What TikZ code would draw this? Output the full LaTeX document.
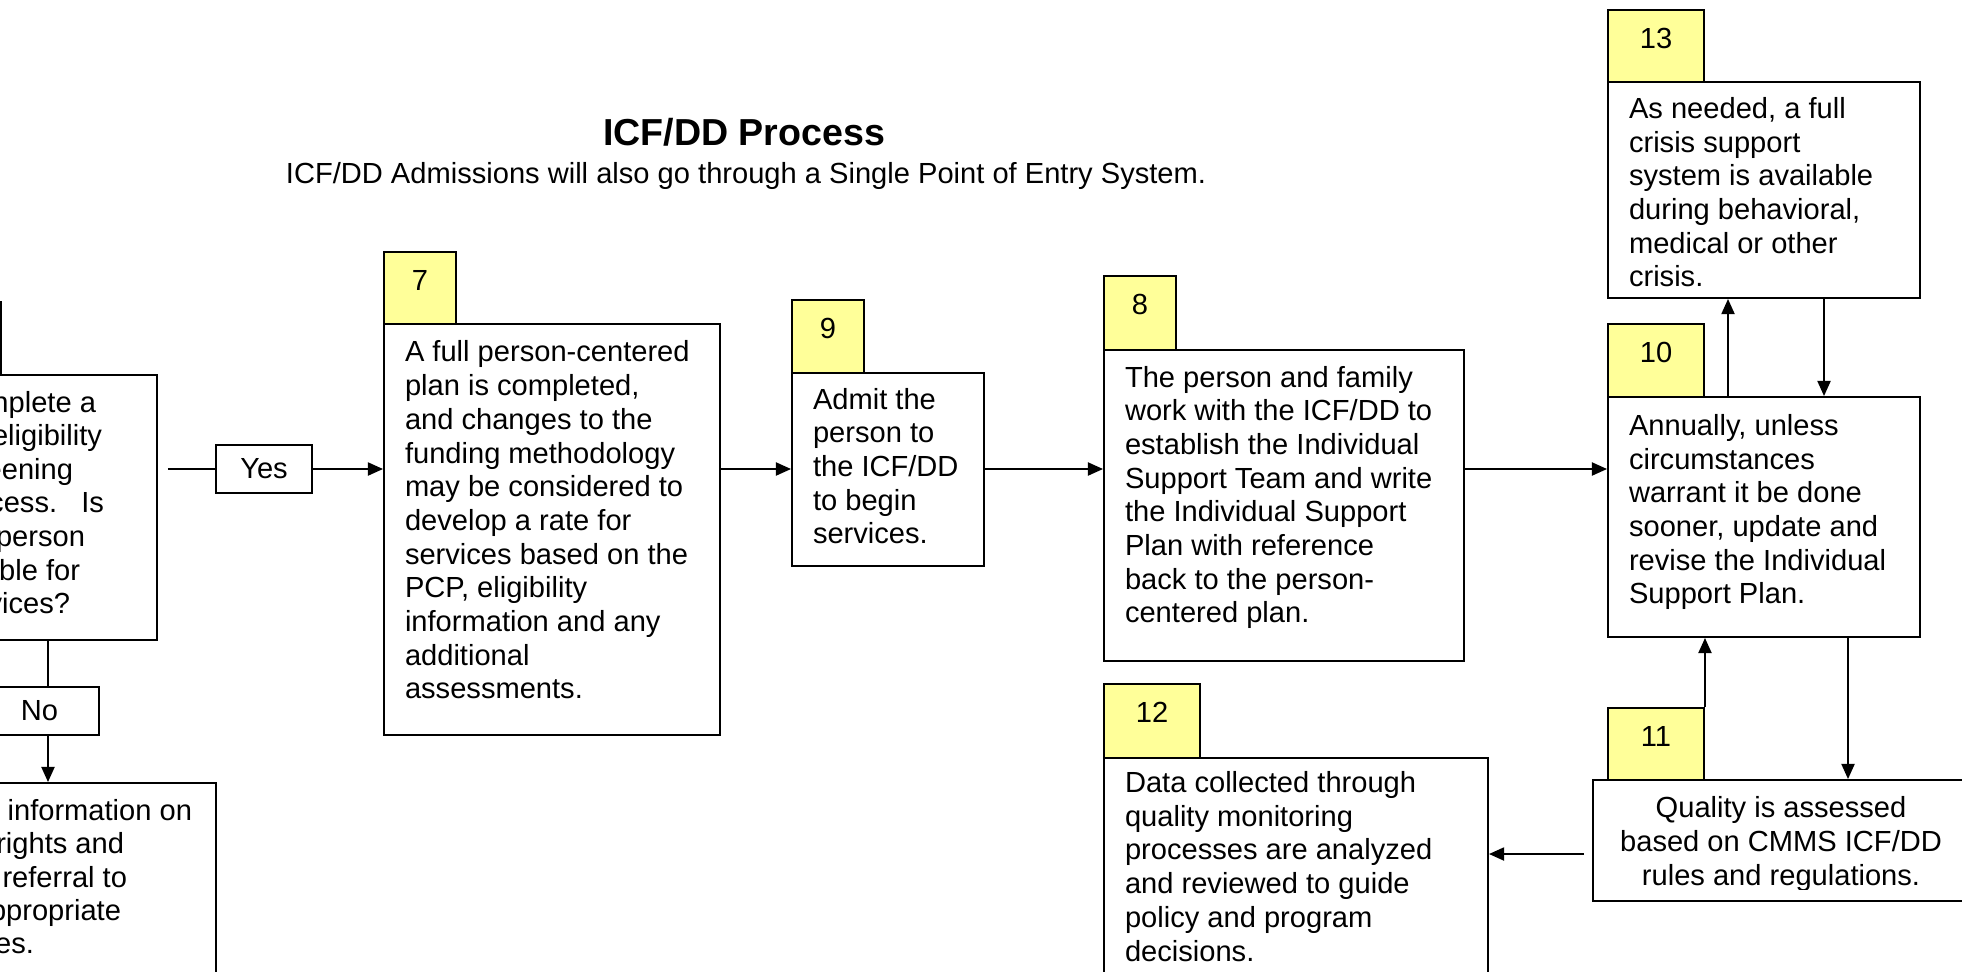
\documentclass[tikz,border=0pt]{standalone}
\usepackage{fontspec}
\setmainfont{Liberation Sans}
\usetikzlibrary{arrows.meta, fit, calc}
\definecolor{tabyellow}{HTML}{FFFF99}

\begin{document}
\begin{tikzpicture}[x=0.0145cm, y=-0.0145cm, line width=0.8pt,
    >={Triangle[length=0.22cm, width=0.19cm]},
    font=\fontsize{12}{13.9}\selectfont]
    \tikzset{
        card/.style={draw, fill=white, inner sep=0pt},
        tab/.style={draw, fill=tabyellow, inner sep=0pt},
        txt/.style={anchor=base west, align=left, inner sep=0pt},
        num/.style={anchor=base, inner sep=0pt}
    }
    \useasboundingbox (0,0) rectangle (1962,971);

    % heading
    \node[anchor=base, font=\bfseries\fontsize{15.5}{18}\selectfont] (title) at (744,145) {ICF/DD Process};
    \node[anchor=base] (subtitle) at (746,183) {ICF/DD Admissions will also go through a Single Point of Entry System.};

    % numbered tabs
    \foreach \id/\xa/\ya/\xb/\yb in {7/384/252/456/324, 9/792/300/864/373, 8/1104/276/1176/350,
        13/1608/10/1704/82, 10/1608/324/1704/397, 11/1608/708/1704/780, 12/1104/684/1200/758} {
        \node[tab, fit={(\xa,\ya) (\xb,\yb)}] (n\id) {};
        \node[num] (l\id) at ($(n\id.north)+(0,39)$) {\id};
    }
    \node[tab, fit={(-95,302) (1,375)}] (nq) {};

    % boxes
    \node[card, fit={(-95,375) (157,640)}] (q) {};
    \node[card, fit={(-150,783) (216,1010)}] (rf) {};
    \node[card, fit={(384,324) (720,735)}] (b7) {};
    \node[card, fit={(792,373) (984,566)}] (b9) {};
    \node[card, fit={(1104,350) (1464,661)}] (b8) {};
    \node[card, fit={(1608,82) (1920,298)}] (b13) {};
    \node[card, fit={(1608,397) (1920,637)}] (b10) {};
    \node[card, fit={(1593,780) (1970,901)}] (b11) {};
    \node[card, fit={(1104,758) (1488,1010)}] (b12) {};
    \node[card, fit={(216,445) (312,493)}] (yes) {};
    \node[card, fit={(-20,687) (99,735)}] (no) {};
    \node (lyes) at (yes.center) {Yes};
    \node (lno) at (no.center) {No};

    % texts (base = last line)
    \foreach \txt/\xe/\yb [count=\i] in {nplete a/97/412, eligibility/103/445, eening/74/479,
        cess.\ \ \ Is/105/512, person/86/546, ble for/81/580, vices?/71/613} {
        \node[num, anchor=base east] (tq\i) at (\xe,\yb) {\txt};
    }
    \foreach \txt/\xe/\yb [count=\i] in {information on/193/820, rights and/125/853,
        referral to/128/887, ppropriate/122/920, es./35/953} {
        \node[num, anchor=base east] (trf\i) at (\xe,\yb) {\txt};
    }
    \node[txt] (t7) at ($(b7.south west)+(21,-37)$) {A full person-centered\\plan is completed,\\and changes to the\\funding methodology\\may be considered to\\develop a rate for\\services based on the\\PCP, eligibility\\information and any\\additional\\assessments.};
    \node[txt] (t9) at ($(b9.south west)+(21,-23)$) {Admit the\\person to\\the ICF/DD\\to begin\\services.};
    \node[txt] (t8) at ($(b8.south west)+(21,-39)$) {The person and family\\work with the ICF/DD to\\establish the Individual\\Support Team and write\\the Individual Support\\Plan with reference\\back to the person-\\centered plan.};
    \node[txt] (t10) at ($(b10.south west)+(21,-34)$) {Annually, unless\\circumstances\\warrant it be done\\sooner, update and\\revise the Individual\\Support Plan.};
    \begin{scope}
        \clip (1608,82) rectangle (1920,286);
        \node[txt] (t13) at ($(b13.south west)+(21,-12)$) {As needed, a full\\crisis support\\system is available\\during behavioral,\\medical or other\\crisis.};
    \end{scope}
    \begin{scope}
        \clip (1593,780) rectangle (1970,889);
        \node[num, align=center] (t11) at (1781,885) {Quality is assessed\\based on CMMS ICF/DD\\rules and regulations.};
    \end{scope}
    \begin{scope}
        \clip (1104,758) rectangle (1488,963);
        \node[txt] (t12) at ($(b12.north west)+(21,204)$) {Data collected through\\quality monitoring\\processes are analyzed\\and reviewed to guide\\policy and program\\decisions.};
    \end{scope}

    % connectors
    \coordinate (flow) at (0,469);
    \coordinate (down) at (48,0);
    \coordinate (up) at (1728,0);
    \coordinate (dn) at (1824,0);
    \coordinate (qa) at (1848,0);
    \coordinate (back) at (0,854);
    \draw[shorten <=0.145cm] (q.east |- yes.west) -- (yes.west);
    \draw[->] (yes.east) -- (b7.west |- yes.east);
    \draw[->] (b7.east |- flow) -- (b9.west |- flow);
    \draw[->] (b9.east |- flow) -- (b8.west |- flow);
    \draw[->] (b8.east |- flow) -- (b10.west |- flow);
    \draw (q.south -| down) -- (no.north -| down);
    \draw[->] (no.south -| down) -- (rf.north -| down);
    \draw[->] (b10.north -| up) -- (b13.south -| up);
    \draw[->] (b13.south -| dn) -- (b10.north -| dn);
    \draw[->] (b10.south -| qa) -- (b11.north -| qa);
    \draw[->] (n11.north east) -- (b10.south -| n11.north east);
    \draw[->, shorten <=0.116cm] (b11.west |- back) -- (b12.east |- back);

\end{tikzpicture}
\end{document}
